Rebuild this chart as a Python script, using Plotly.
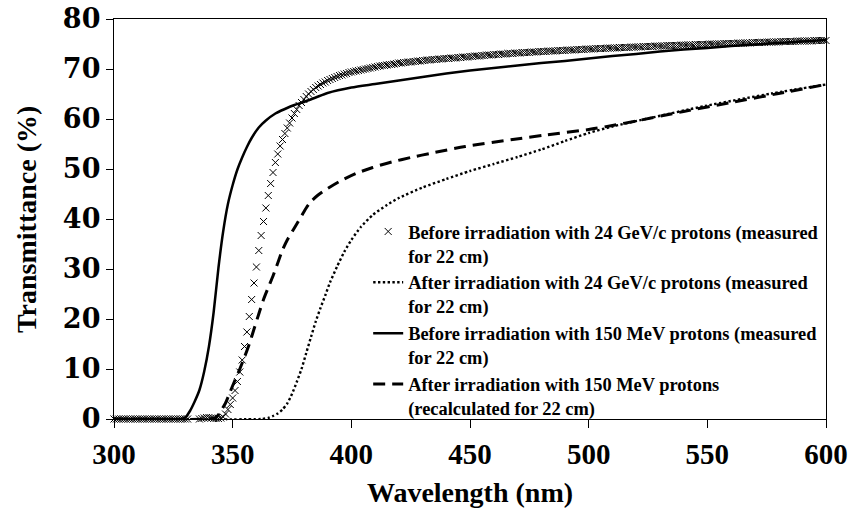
import plotly.graph_objects as go

# ---- data -------------------------------------------------------------
# Before irradiation with 24 GeV/c protons (measured, 1 nm steps 300..600)
wl_before24 = list(range(300, 601))
t_before24 = [
    0.0, 0.0, 0.0, 0.0, 0.0, 0.0, 0.0, 0.0, 0.0, 0.0,
    0.0, 0.0, 0.0, 0.0, 0.0, 0.0, 0.0, 0.0, 0.0, 0.0,
    0.0, 0.0, 0.0, 0.0, 0.0, 0.0, 0.0, 0.0, 0.0, 0.0,
    0.0, 0.0,
    None, None, None, None,
    0.0, 0.1, 0.2, 0.3, 0.3, 0.2, 0.1, 0.1, 0.1, 0.2,
    0.4, 1.0, 1.9, 2.9, 4.2, 5.7, 7.5, 9.4, 11.8, 14.5,
    17.4, 20.5, 23.9, 27.2, 30.4, 33.7, 36.7, 39.5, 42.2, 44.7,
    47.1, 49.3, 51.3, 53.0, 54.6, 55.9, 57.1, 58.2, 59.2, 60.2,
    61.1, 61.9, 62.7, 63.3, 63.9, 64.5, 65.0, 65.5, 65.9, 66.3,
    66.6, 66.9, 67.2, 67.4, 67.7, 67.9, 68.1, 68.3, 68.5, 68.7,
    68.8, 69.0, 69.1, 69.3, 69.4, 69.5, 69.6, 69.7, 69.8, 69.9,
    70.0, 70.1, 70.2, 70.3, 70.4, 70.5, 70.6, 70.7, 70.7, 70.8,
    70.9, 70.9, 71.0, 71.1, 71.2, 71.2, 71.3, 71.3, 71.4, 71.4,
    71.5, 71.5, 71.6, 71.6, 71.7, 71.7, 71.8, 71.8, 71.9, 71.9,
    71.9, 72.0, 72.0, 72.1, 72.1, 72.1, 72.2, 72.2, 72.2, 72.3,
    72.3, 72.4, 72.4, 72.4, 72.5, 72.5, 72.6, 72.6, 72.6, 72.7,
    72.7, 72.8, 72.8, 72.8, 72.9, 72.9, 72.9, 73.0, 73.0, 73.0,
    73.1, 73.1, 73.1, 73.2, 73.2, 73.2, 73.3, 73.3, 73.3, 73.3,
    73.4, 73.4, 73.4, 73.5, 73.5, 73.5, 73.5, 73.6, 73.6, 73.6,
    73.6, 73.7, 73.7, 73.7, 73.7, 73.8, 73.8, 73.8, 73.8, 73.9,
    73.9, 73.9, 73.9, 74.0, 74.0, 74.0, 74.0, 74.1, 74.1, 74.1,
    74.1, 74.1, 74.2, 74.2, 74.2, 74.2, 74.2, 74.3, 74.3, 74.3,
    74.3, 74.3, 74.4, 74.4, 74.4, 74.4, 74.4, 74.5, 74.5, 74.5,
    74.5, 74.5, 74.6, 74.6, 74.6, 74.6, 74.6, 74.7, 74.7, 74.7,
    74.7, 74.7, 74.7, 74.8, 74.8, 74.8, 74.8, 74.8, 74.8, 74.9,
    74.9, 74.9, 74.9, 74.9, 74.9, 75.0, 75.0, 75.0, 75.0, 75.0,
    75.0, 75.1, 75.1, 75.1, 75.1, 75.1, 75.1, 75.2, 75.2, 75.2,
    75.2, 75.2, 75.2, 75.3, 75.3, 75.3, 75.3, 75.3, 75.3, 75.4,
    75.4, 75.4, 75.4, 75.4, 75.4, 75.5, 75.5, 75.5, 75.5, 75.5,
    75.5, 75.5, 75.6, 75.6, 75.6, 75.6, 75.6, 75.6, 75.6, 75.7,
    75.7, 75.7, 75.7, 75.7, 75.7,
]

# After irradiation with 24 GeV/c protons (measured)
wl_after24 = [300, 362, 365, 367, 369, 371, 373, 375, 377, 379, 381, 383, 385,
              387, 389, 391, 394, 397, 400, 404, 409, 415, 420, 430, 440, 450,
              460, 470, 480, 490, 500, 510, 524, 549, 577, 600]
t_after24 = [0.0, 0.0, 0.2, 0.6, 1.1, 1.9, 3.1, 5.0, 7.4, 10.0, 13.2, 16.4, 19.5,
             22.2, 24.7, 27.3, 30.5, 33.4, 35.8, 38.4, 40.8, 42.8, 44.2, 46.3, 48.0, 49.6,
             51.0, 52.4, 53.9, 55.6, 57.2, 58.5, 60.0, 62.6, 65.1, 66.9]

# Before irradiation with 150 MeV protons (measured)
wl_before150 = [300, 320, 328, 330, 332, 334, 336, 338, 340, 342, 344, 346, 348,
                350, 352, 354, 356, 358, 361, 364, 368, 372, 376, 380, 385, 390,
                400, 410, 420, 430, 440, 450, 460, 470, 480, 490, 500, 510, 520,
                530, 540, 550, 560, 570, 580, 590, 600]
t_before150 = [0.0, 0.0, 0.0, 0.3, 1.6, 3.5, 5.8, 9.5, 14.5, 21.4, 30.2, 37.5, 43.0,
               46.8, 49.9, 52.3, 54.4, 56.2, 58.3, 59.7, 61.1, 62.0, 62.8, 63.4, 64.3, 65.2,
               66.3, 67.0, 67.7, 68.4, 69.1, 69.7, 70.2, 70.7, 71.2, 71.6, 72.1, 72.6, 73.0,
               73.5, 73.9, 74.2, 74.6, 74.9, 75.2, 75.5, 75.8]

# After irradiation with 150 MeV protons (recalculated for 22 cm)
wl_after150 = [300, 340, 343, 345, 347, 349, 351, 353, 355, 357, 359, 361, 363,
               365, 367, 369, 371, 373, 375, 377, 379, 381, 383, 386, 389, 395,
               402, 409, 417, 425, 434, 448, 468, 482, 500, 510, 520, 540, 560, 580, 600]
t_after150 = [0.0, 0.0, 0.3, 1.6, 3.2, 5.5, 7.8, 10.0, 12.4, 15.0, 18.0, 21.0, 23.9,
              26.3, 28.6, 31.2, 33.8, 35.8, 37.4, 39.0, 40.6, 42.2, 43.5, 44.8, 45.8, 47.5,
              49.1, 50.3, 51.4, 52.3, 53.2, 54.5, 55.9, 56.8, 57.9, 58.7, 59.6, 61.5, 63.3, 65.1, 66.9]

names = [
    "Before irradiation with 24 GeV/c protons (measured<br>for 22 cm)",
    "After irradiation with 24 GeV/c protons (measured<br>for 22 cm)",
    "Before irradiation with 150 MeV protons (measured<br>for 22 cm)",
    "After irradiation with 150 MeV protons<br>(recalculated for 22 cm)",
]

x_ticks = [300, 350, 400, 450, 500, 550, 600]
y_ticks = [0, 10, 20, 30, 40, 50, 60, 70, 80]

x_title = "Wavelength (nm)"
y_title = "Transmittance (%)"

# ---- figure -----------------------------------------------------------
FONT = "Liberation Serif, Times New Roman, serif"
FONT_Y = "DejaVu Serif, Liberation Serif, serif"

fig = go.Figure()
fig.add_trace(go.Scatter(
    x=wl_before24, y=t_before24, mode="markers", name=names[0],
    marker=dict(symbol="x-thin", size=7, color="black",
                line=dict(color="black", width=1)),
    cliponaxis=False,
))
fig.add_trace(go.Scatter(
    x=wl_after24, y=t_after24, mode="lines", name=names[1],
    line=dict(color="black", width=2.4, dash="2.4px,2.4px", shape="spline", smoothing=0.6),
))
fig.add_trace(go.Scatter(
    x=wl_before150, y=t_before150, mode="lines", name=names[2],
    line=dict(color="black", width=2.5, shape="spline", smoothing=0.7),
))
fig.add_trace(go.Scatter(
    x=wl_after150, y=t_after150, mode="lines", name=names[3],
    line=dict(color="black", width=3, dash="12px,7px", shape="spline", smoothing=0.7),
))

axis_common = dict(
    showgrid=False, zeroline=False, showline=True, linecolor="black",
    linewidth=1.3, mirror=True, ticks="outside", tickcolor="black",
    tickwidth=1.3, automargin=False, ticklabeloverflow="allow",
)

fig.update_layout(
    width=850, height=508,
    margin=dict(l=114, r=24, t=19, b=89),
    paper_bgcolor="white", plot_bgcolor="white",
    showlegend=True,
    legend=dict(
        x=0.357, y=0.515, xanchor="left", yanchor="top",
        bgcolor="rgba(0,0,0,0)", borderwidth=0,
        font=dict(family=FONT, size=18.4, color="black", weight="bold"),
        valign="top", tracegroupgap=0, itemwidth=30,
    ),
    xaxis=dict(
        range=[300, 600], tickvals=x_ticks, ticklen=8, ticklabelstandoff=1,
        tickfont=dict(family=FONT, size=29, color="black", weight="bold"),
        title=dict(text=x_title, standoff=13,
                   font=dict(family=FONT, size=28, color="black", weight="bold")),
        **axis_common,
    ),
    yaxis=dict(
        range=[0, 80], tickvals=y_ticks, ticklen=7,
        tickfont=dict(family=FONT_Y, size=27, color="black", weight="bold"),
        **axis_common,
    ),
    annotations=[dict(
        text=y_title, xref="paper", yref="paper", x=-0.1236, y=0.5,
        xanchor="center", yanchor="middle", textangle=-90, showarrow=False,
        font=dict(family=FONT, size=28, color="black", weight="bold"),
    )],
)

fig.write_html(
    "out.html",
    config={"displayModeBar": False},
    post_script="document.body.style.margin='0';document.body.style.overflow='hidden';",
)
